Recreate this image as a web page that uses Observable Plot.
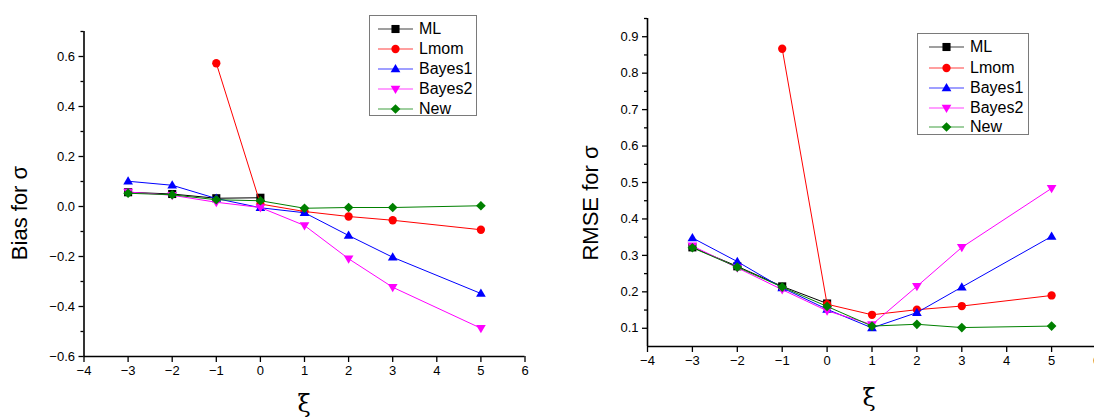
<!DOCTYPE html>
<html>
<head>
<meta charset="utf-8">
<script src="https://cdn.jsdelivr.net/npm/d3@7"></script>
<script src="https://cdn.jsdelivr.net/npm/@observablehq/plot@0.6"></script>
<style>
  html, body { margin: 0; padding: 0; background: #fff; }
  body { width: 1094px; height: 417px; overflow: hidden; position: relative; font-family: "Liberation Sans", Arial, sans-serif; }
  .panel { position: absolute; top: 0; }
  .panel svg { max-width: none !important; }
  .panel svg text { font-size: 13px; }
  .ytitle { position: absolute; font-size: 22px; white-space: nowrap; transform: translate(-50%, -50%) rotate(-90deg); color: #000; }
  .xtitle { position: absolute; font-size: 24px; font-family: "DejaVu Serif", "Liberation Serif", serif; transform: translate(-50%, -50%); color: #000; }
  .legend { position: absolute; border: 1.5px solid #7a7a7a; background: #fff; box-sizing: border-box; }
  .legend .row { position: absolute; left: 0; height: 20px; display: flex; align-items: center; font-size: 16px; color: #000; }
  .legend svg { display: block; }
</style>
</head>
<body>
<script>
// ---- data ----
const xi = [-3, -2, -1, 0, 1, 2, 3, 5];
const seriesNames = ["ML", "Lmom", "Bayes1", "Bayes2", "New"];
const seriesColors = ["#000000", "#ff0000", "#0000ff", "#ff00ff", "#008000"];

const biasML     = [0.057, 0.050, 0.033, 0.035, null, null, null, null];
const biasLmom   = [null, null, 0.573, 0.010, -0.020, -0.040, -0.055, -0.093];
const biasBayes1 = [0.101, 0.085, 0.032, -0.005, -0.025, -0.116, -0.203, -0.348];
const biasBayes2 = [0.058, 0.045, 0.017, -0.004, -0.076, -0.209, -0.323, -0.487];
const biasNew    = [0.053, 0.047, 0.027, 0.023, -0.007, -0.004, -0.004, 0.003];

const rmseML     = [0.322, 0.270, 0.215, 0.168, null, null, null, null];
const rmseLmom   = [null, null, 0.867, 0.166, 0.137, 0.151, 0.161, 0.190];
const rmseBayes1 = [0.348, 0.283, 0.211, 0.152, 0.101, 0.143, 0.213, 0.352];
const rmseBayes2 = [0.326, 0.266, 0.206, 0.148, 0.110, 0.215, 0.322, 0.484];
const rmseNew    = [0.321, 0.268, 0.213, 0.160, 0.106, 0.111, 0.102, 0.106];

const xTicks = [-4, -3, -2, -1, 0, 1, 2, 3, 4, 5, 6];
const biasTicks = [-0.6, -0.4, -0.2, 0.0, 0.2, 0.4, 0.6];
const biasMinor = [-0.5, -0.3, -0.1, 0.1, 0.3, 0.5, 0.7];
const rmseTicks = [0.1, 0.2, 0.3, 0.4, 0.5, 0.6, 0.7, 0.8, 0.9];
const rmseMinor = [0.15, 0.25, 0.35, 0.45, 0.55, 0.65, 0.75, 0.85, 0.95];

// ---- symbols ----
const rad = s => Math.sqrt(s / Math.PI);
const symSquare = { draw(c, s) { const h = rad(s) * 0.9; c.rect(-h, -h, 2 * h, 2 * h); } };
const symCircle = { draw(c, s) { const r = rad(s) * 0.92; c.moveTo(r, 0); c.arc(0, 0, r, 0, 2 * Math.PI); } };
const symUp = { draw(c, s) { const w = rad(s) * 1.08, h = w * 1.7; c.moveTo(0, -h * 0.6); c.lineTo(w, h * 0.4); c.lineTo(-w, h * 0.4); c.closePath(); } };
const symDown = { draw(c, s) { const w = rad(s) * 1.08, h = w * 1.7; c.moveTo(0, h * 0.6); c.lineTo(w, -h * 0.4); c.lineTo(-w, -h * 0.4); c.closePath(); } };
const symDiamond = { draw(c, s) { const r = rad(s) * 1.08; c.moveTo(0, -r); c.lineTo(r, 0); c.lineTo(0, r); c.lineTo(-r, 0); c.closePath(); } };
const seriesSymbols = [symSquare, symCircle, symUp, symDown, symDiamond];

const fmt1 = d3.format(".1f");

function seriesMarks(valueArrays) {
  const marks = [];
  valueArrays.forEach((vals, i) => {
    const data = xi.map((x, j) => ({ x, y: vals[j] })).filter(d => d.y != null);
    marks.push(Plot.line(data, { x: "x", y: "y", stroke: seriesColors[i], strokeWidth: 1 }));
    marks.push(Plot.dot(data, { x: "x", y: "y", symbol: seriesSymbols[i], fill: seriesColors[i], stroke: "none", r: 4.5 }));
  });
  return marks;
}

function makePanel(opts) {
  return Plot.plot({
    width: opts.width,
    height: 417,
    marginLeft: opts.marginLeft,
    marginRight: opts.marginRight,
    marginTop: opts.marginTop,
    marginBottom: opts.marginBottom,
    style: { fontFamily: '"Liberation Sans", Arial, sans-serif', fontSize: "13px", color: "#000", background: "transparent", overflow: "visible", maxWidth: "none" },
    x: { domain: [-4, 6] },
    y: { domain: opts.yDomain },
    marks: [
      Plot.axisX({ ticks: xTicks, tickSize: 6, tickPadding: 3, fontSize: 13, label: null, tickFormat: d => d3.format("d")(d), strokeWidth: 1.3 }),
      Plot.axisY({ ticks: opts.major, tickSize: 5, tickPadding: 4, fontSize: 13, label: null, tickFormat: fmt1, strokeWidth: 1.3 }),
      Plot.axisY({ ticks: opts.minor, tickSize: 3, tickFormat: () => "", label: null, strokeWidth: 1.3 }),
      Plot.ruleX([-4], { stroke: "#000", strokeWidth: 1.6 }),
      Plot.ruleY([opts.yDomain[0]], { stroke: "#000", strokeWidth: 1.6 }),
      ...seriesMarks(opts.values)
    ]
  });
}

function addPanel(left, width, plot) {
  const div = document.createElement("div");
  div.className = "panel";
  div.style.left = left + "px";
  div.style.width = width + "px";
  div.appendChild(plot);
  document.body.appendChild(div);
}

function addText(cls, text, x, y) {
  const d = document.createElement("div");
  d.className = cls;
  d.textContent = text;
  d.style.left = x + "px";
  d.style.top = y + "px";
  document.body.appendChild(d);
}

function addLegend(box, lineX0, lineX1, textX, rowYs) {
  const lg = document.createElement("div");
  lg.className = "legend";
  lg.style.left = box.x + "px"; lg.style.top = box.y + "px";
  lg.style.width = box.w + "px"; lg.style.height = box.h + "px";
  seriesNames.forEach((name, i) => {
    const row = document.createElement("div");
    row.className = "row";
    row.style.top = (rowYs[i] - box.y - 10) + "px";
    row.style.left = (lineX0 - box.x) + "px";
    const w = lineX1 - lineX0;
    const sym = d3.symbol(seriesSymbols[i], 4.5 * 4.5 * Math.PI)();
    row.innerHTML =
      `<svg width="${w}" height="20"><line x1="0" x2="${w}" y1="10" y2="10" stroke="${seriesColors[i]}" stroke-width="1.2" opacity="0.75"/>` +
      `<path transform="translate(${w / 2},10)" d="${sym}" fill="${seriesColors[i]}"/></svg>` +
      `<span style="margin-left:${textX - lineX1}px">${name}</span>`;
    lg.appendChild(row);
  });
  document.body.appendChild(lg);
}

// left panel: Bias
addPanel(0, 547, makePanel({
  width: 547, marginLeft: 83.5, marginRight: 22.5, marginTop: 31, marginBottom: 61,
  yDomain: [-0.6, 0.7], major: biasTicks, minor: biasMinor,
  values: [biasML, biasLmom, biasBayes1, biasBayes2, biasNew]
}));
// right panel: RMSE
addPanel(547, 560, makePanel({
  width: 560, marginLeft: 100, marginRight: 11, marginTop: 18, marginBottom: 71,
  yDomain: [0.05, 0.95], major: rmseTicks, minor: rmseMinor,
  values: [rmseML, rmseLmom, rmseBayes1, rmseBayes2, rmseNew]
}));

addText("ytitle", "Bias for σ", 20, 213);
addText("ytitle", "RMSE for σ", 591, 203);
addText("xtitle", "ξ", 304, 404);
addText("xtitle", "ξ", 869, 398);

addLegend({ x: 369, y: 15, w: 108, h: 101 }, 377, 412, 418, [28, 48, 68, 88, 108]);
addLegend({ x: 917, y: 33, w: 112, h: 102 }, 928, 963, 969, [46, 66.5, 86.5, 106.5, 126]);
</script>
</body>
</html>
